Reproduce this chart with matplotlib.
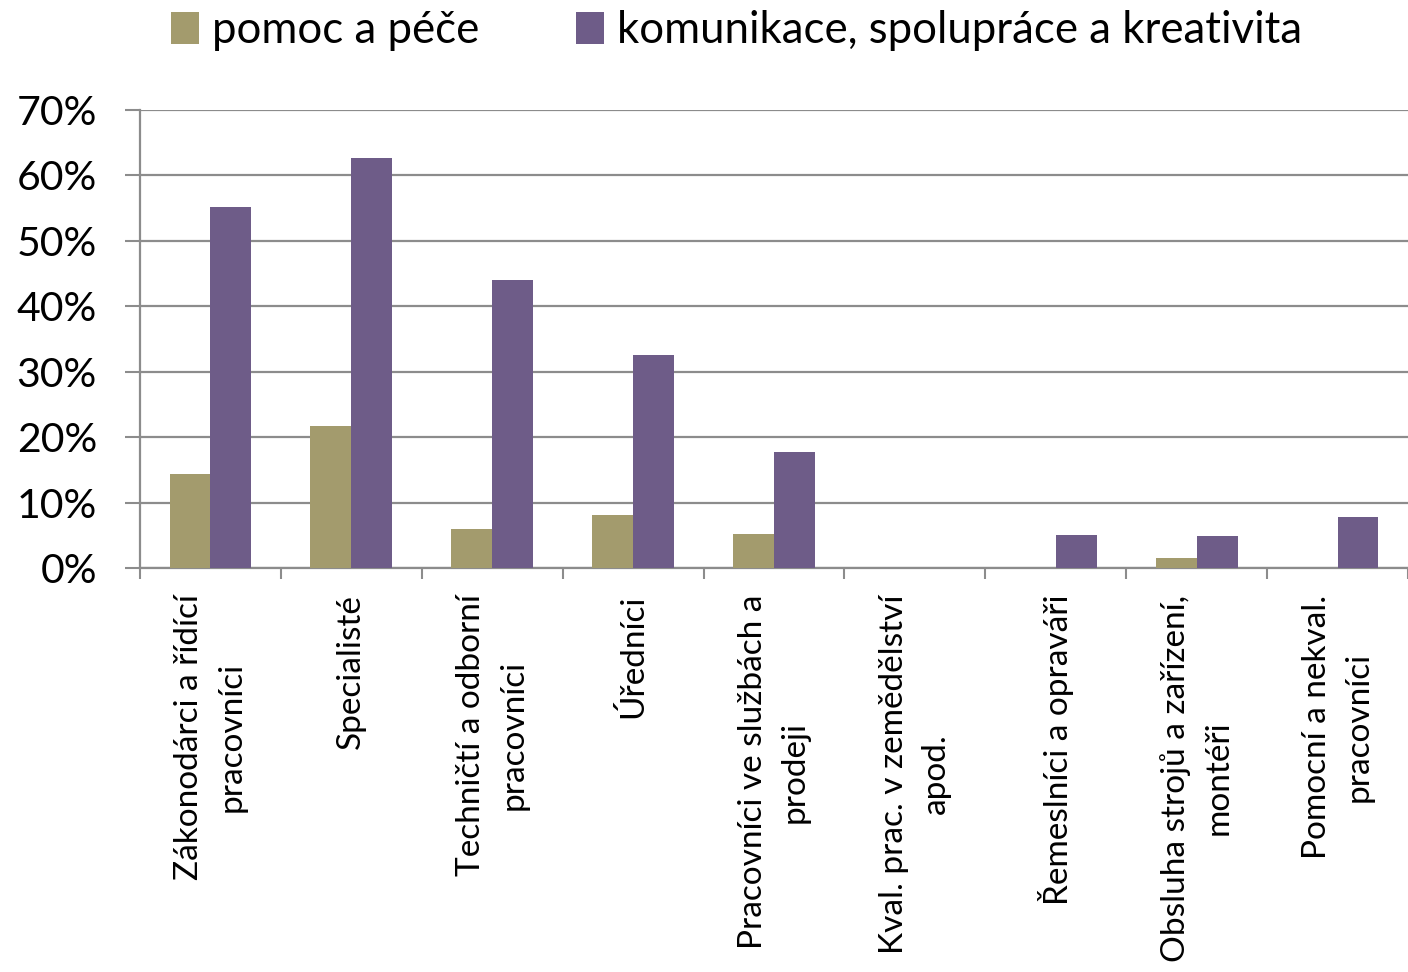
import matplotlib
matplotlib.use('Agg')
import matplotlib.pyplot as plt
import matplotlib.ticker as mticker
import numpy as np

plt.rcParams['font.family'] = ['Lato', 'DejaVu Sans']

CATEGORIES = [
    'Zákonodárci a řídící\npracovníci',
    'Specialisté',
    'Techničtí a odborní\npracovníci',
    'Úředníci',
    'Pracovníci ve službách a\nprodeji',
    'Kval. prac. v zemědělství\napod.',
    'Řemeslníci a opraváři',
    'Obsluha strojů a zařízení,\nmontéři',
    'Pomocní a nekval.\npracovníci',
]
SERIES = ['pomoc a péče', 'komunikace, spolupráce a kreativita']
POMOC = [14.4, 21.7, 6.0, 8.1, 5.2, 0.0, 0.0, 1.5, 0.0]
KOMUNIKACE = [55.2, 62.7, 44.0, 32.6, 17.7, 0.0, 5.0, 4.9, 7.8]
COLORS = ['#A39B6D', '#6E5C88']
GRID = '#8C8C8C'

fig = plt.figure(figsize=(14.08, 9.72), dpi=100)
ax = fig.add_axes([140 / 1408, 1 - 568 / 972, 1 - 140 / 1408, (568 - 110) / 972])

x = np.arange(len(CATEGORIES))
w = 0.29
b1 = ax.bar(x - w / 2, POMOC, w, color=COLORS[0], label=SERIES[0], zorder=3)
b2 = ax.bar(x + w / 2, KOMUNIKACE, w, color=COLORS[1], label=SERIES[1], zorder=3)

ax.set_xlim(-0.5, len(CATEGORIES) - 0.5)
ax.set_ylim(0, 70)
ax.set_yticks(np.arange(0, 71, 10))
ax.yaxis.set_major_formatter(mticker.FormatStrFormatter('%d%%'))
ax.yaxis.grid(True, color=GRID, lw=1.6, zorder=0)

ax.set_xticks(x)
ax.set_xticklabels(CATEGORIES, rotation=90, va='top', ha='center',
                   multialignment='center', fontsize=24, linespacing=1.5)
ax.tick_params(axis='x', length=0, pad=19)
ax.set_xticks(np.arange(-0.5, len(CATEGORIES), 1), minor=True)
ax.tick_params(axis='x', which='minor', length=8, width=1.5, color=GRID)
ax.tick_params(axis='y', length=11, width=1.5, color=GRID, labelsize=29.5, pad=20)

for side in ['top', 'right']:
    ax.spines[side].set_visible(False)
for side in ['left', 'bottom']:
    ax.spines[side].set_color(GRID)
    ax.spines[side].set_linewidth(1.6)

fig.legend(handles=[b1, b2], loc='upper center', bbox_to_anchor=(0.523, 1.03),
           ncol=2, frameon=False, fontsize=31.5, handlelength=0.65, handleheight=0.75,
           handletextpad=0.3, columnspacing=2.2)

fig.savefig('out.png', dpi=100)
